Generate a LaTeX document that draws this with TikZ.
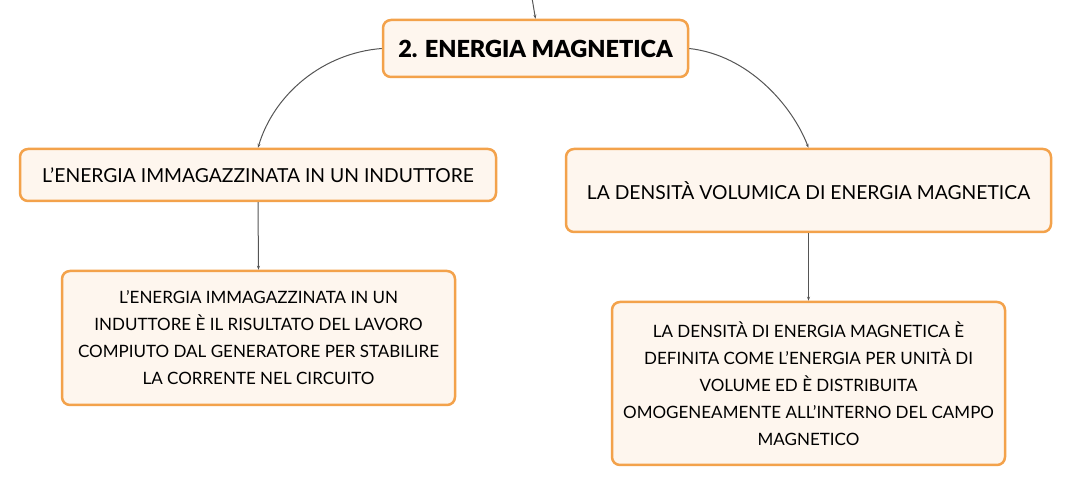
\documentclass[tikz,border=0pt]{standalone}
\usepackage{fontspec}
\setmainfont{Lato}
\newfontfamily\heavyfont{Lato Black}
\usetikzlibrary{arrows.meta}
\definecolor{boxline}{HTML}{F3A24B}
\definecolor{boxfill}{HTML}{FEF6EE}
\definecolor{linkgrey}{HTML}{555555}
\tikzset{
	mapbox/.style={draw=boxline, fill=boxfill, line width=2.5pt, rounded corners=8pt, align=center, inner sep=0pt, font=\fontsize{17}{27}\selectfont},
	headbox/.style={mapbox, font=\fontsize{19.3}{24}\selectfont},
	maplink/.style={draw=linkgrey, line width=1pt, -{Stealth[length=4pt,width=3pt]}}
}

\begin{document}
\begin{tikzpicture}[x=1pt, y=-1pt]
			%%%%% START %%%%%
			\useasboundingbox (0, 0) rectangle (1072, 486);
			
			\node[mapbox, minimum width=305, minimum height=57, font=\heavyfont\fontsize{23.5}{26}\selectfont] (title) at (535.5, 48.5) {2. ENERGIA MAGNETICA};
			
			\node[headbox, minimum width=476, minimum height=52] (stored) at (258, 175) {L'ENERGIA IMMAGAZZINATA IN UN INDUTTORE};
			\node[mapbox, minimum width=393, minimum height=134] (storedtext) at (258.5, 338) {L'ENERGIA IMMAGAZZINATA IN UN\\INDUTTORE È IL RISULTATO DEL LAVORO\\COMPIUTO DAL GENERATORE PER STABILIRE\\LA CORRENTE NEL CIRCUITO};
			
			\node[headbox, minimum width=485, minimum height=83] (density) at (808.5, 190.5) {LA DENSITÀ VOLUMICA DI ENERGIA MAGNETICA};
			\node[mapbox, minimum width=393, minimum height=163] (densitytext) at (808.5, 383.5) {LA DENSITÀ DI ENERGIA MAGNETICA È\\DEFINITA COME L'ENERGIA PER UNITÀ DI\\VOLUME ED È DISTRIBUITA\\OMOGENEAMENTE ALL'INTERNO DEL CAMPO\\MAGNETICO};
			
			\coordinate (above) at (532, -2);
			\draw[maplink] (above) -- (title.north);
			
			\draw[maplink] (title.west) .. controls (323, 53) and (274, 94) .. (stored.north);
			\draw[maplink] (title.east) .. controls (748, 55) and (792, 105) .. (density.north);
			
			\draw[maplink] (stored.south) -- (storedtext.north);
			\draw[maplink] (density.south) -- (densitytext.north);
			%%%%% END %%%%%
\end{tikzpicture}
\end{document}
